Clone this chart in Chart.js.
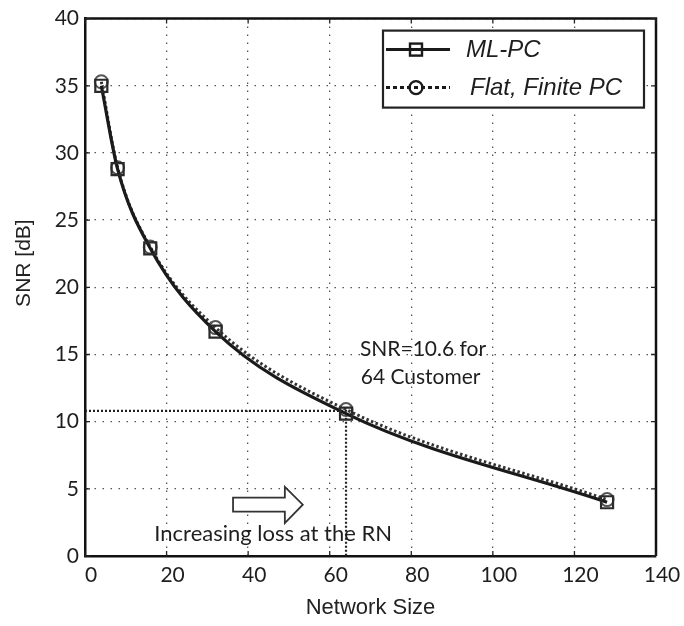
<!DOCTYPE html>
<html><head><meta charset="utf-8">
<script src="https://cdn.jsdelivr.net/npm/chart.js@4/dist/chart.umd.min.js"></script>
<style>html,body{margin:0;padding:0;background:#fff}#wrap{width:684px;height:626px}</style>
</head><body><div id="wrap"><canvas id="c" width="684" height="626"></canvas></div>
<script>
// ---- data ----
const networkSize = [4, 8, 16, 32, 64, 128];
const snrMLPC     = [35.0, 28.8, 22.9, 16.7, 10.6, 4.0];
const snrFlat     = [35.3, 28.9, 23.0, 17.0, 10.9, 4.2];
const guideX      = [0, 64, 64];
const guideY      = [10.8, 10.8, 0];
const seriesNames = ['ML-PC', 'Flat, Finite PC'];
const xTickStep = 20, xMin = 0, xMax = 140;
const yTickStep = 5,  yMin = 0, yMax = 40;
const xTitle = 'Network Size';
const yTitle = 'SNR [dB]';
const noteLines = ['SNR=10.6 for', '64 Customer'];
const arrowNote = 'Increasing loss at the RN';

const toPts = (xs, ys) => xs.map((x, i) => ({x: x, y: ys[i]}));
const INK = '#1a1a1a';
const CAL = "Lato, 'Open Sans', sans-serif";
const ARI = "'Liberation Sans', Arial, sans-serif";

const extras = {
  id: 'extras',
  afterDraw(chart) {
    const {ctx, chartArea: a, scales: {x, y}} = chart;
    ctx.save();
    // frame top/right
    ctx.strokeStyle = '#111'; ctx.lineWidth = 2.5; ctx.setLineDash([]);
    ctx.beginPath();
    ctx.moveTo(a.left, a.top); ctx.lineTo(a.right, a.top); ctx.lineTo(a.right, a.bottom);
    ctx.stroke();
    // inward tick marks
    ctx.lineWidth = 1.3; ctx.strokeStyle = '#222';
    x.ticks.forEach(t => {
      const px = x.getPixelForValue(t.value);
      ctx.beginPath(); ctx.moveTo(px, a.bottom); ctx.lineTo(px, a.bottom - 5);
      ctx.moveTo(px, a.top); ctx.lineTo(px, a.top + 5); ctx.stroke();
    });
    y.ticks.forEach(t => {
      const py = y.getPixelForValue(t.value);
      ctx.beginPath(); ctx.moveTo(a.left, py); ctx.lineTo(a.left + 5, py);
      ctx.moveTo(a.right, py); ctx.lineTo(a.right - 5, py); ctx.stroke();
    });

    // legend box
    const lx = a.left + 298, ly = a.top + 12, lw = 261, lh = 77;
    ctx.fillStyle = '#fff'; ctx.fillRect(lx, ly, lw, lh);
    ctx.lineWidth = 2.2; ctx.strokeStyle = '#222'; ctx.strokeRect(lx, ly, lw, lh);
    const rows = [ly + 19, ly + 57];
    // row 1: solid line + square
    ctx.strokeStyle = INK; ctx.lineWidth = 3;
    ctx.beginPath(); ctx.moveTo(lx + 3, rows[0]); ctx.lineTo(lx + 67, rows[0]); ctx.stroke();
    ctx.lineWidth = 2.4; ctx.strokeRect(lx + 27, rows[0] - 6, 12, 12);
    // row 2: dashed line + circle
    ctx.lineWidth = 3; ctx.setLineDash([4, 3]);
    ctx.beginPath(); ctx.moveTo(lx + 3, rows[1]); ctx.lineTo(lx + 67, rows[1]); ctx.stroke();
    ctx.setLineDash([]); ctx.lineWidth = 2.4;
    ctx.beginPath(); ctx.arc(lx + 33, rows[1], 6.5, 0, Math.PI * 2); ctx.stroke();
    ctx.fillStyle = '#1e1e1e'; ctx.font = 'italic 24px ' + ARI; ctx.textBaseline = 'middle'; ctx.textAlign = 'left';
    ctx.fillText(seriesNames[0], lx + 83, rows[0] + 1);
    ctx.fillText(seriesNames[1], lx + 87, rows[1] + 1);

    // annotation text
    ctx.font = '21px ' + CAL; ctx.fillStyle = '#1e1e1e';
    ctx.fillText(noteLines[0], x.getPixelForValue(67.4), y.getPixelForValue(15.4));
    ctx.fillText(noteLines[1], x.getPixelForValue(67.6), y.getPixelForValue(13.3));
    ctx.textBaseline = 'alphabetic';
    ctx.font = '22px ' + CAL;
    ctx.fillText(arrowNote, x.getPixelForValue(17.0), y.getPixelForValue(1.15));

    // hollow arrow
    const P = (vx, vy) => [x.getPixelForValue(vx), y.getPixelForValue(vy)];
    const pts = [P(36.3, 4.34), P(49.0, 4.34), P(49.0, 5.15), P(53.4, 3.82), P(49.0, 2.45), P(49.0, 3.3), P(36.3, 3.3)];
    ctx.fillStyle = '#fff'; ctx.strokeStyle = '#333'; ctx.lineWidth = 1.8;
    ctx.beginPath(); pts.forEach((p, i) => i ? ctx.lineTo(p[0], p[1]) : ctx.moveTo(p[0], p[1]));
    ctx.closePath(); ctx.fill(); ctx.stroke();

    // y title
    ctx.translate(24, y.getPixelForValue(21.8));
    ctx.rotate(-Math.PI / 2);
    ctx.font = '21px ' + ARI; ctx.fillStyle = '#222'; ctx.textAlign = 'center'; ctx.textBaseline = 'middle';
    ctx.fillText(yTitle, 0, 0);
    ctx.restore();
  }
};

new Chart(document.getElementById('c'), {
  type: 'line',
  data: {
    datasets: [
      { label: seriesNames[0], data: toPts(networkSize, snrMLPC),
        borderColor: INK, borderWidth: 3.2, cubicInterpolationMode: 'monotone',
        pointStyle: 'rect', pointRadius: 8.5, pointBorderWidth: 2.2, pointBorderColor: '#2a2a2a',
        pointBackgroundColor: 'rgba(0,0,0,0)' },
      { label: seriesNames[1], data: toPts(networkSize, snrFlat),
        borderColor: '#333', borderWidth: 3, borderDash: [2.5, 2.5], cubicInterpolationMode: 'monotone',
        pointStyle: 'circle', pointRadius: 6.5, pointBorderWidth: 2, pointBorderColor: '#555',
        pointBackgroundColor: 'rgba(0,0,0,0)' },
      { label: 'guide', data: toPts(guideX, guideY),
        borderColor: '#222', borderWidth: 2.2, borderDash: [2, 2], tension: 0,
        pointRadius: 0 }
    ]
  },
  options: {
    responsive: false, animation: false,
    layout: { padding: { top: 11, right: 28, left: 0, bottom: 0 } },
    plugins: { legend: { display: false }, tooltip: { enabled: false } },
    scales: {
      x: {
        type: 'linear', min: xMin, max: xMax,
        afterFit: s => { s.height = 70; },
        ticks: { stepSize: xTickStep, color: '#1e1e1e', font: { family: CAL, size: 21 }, padding: 7, labelOffset: 6, maxRotation: 0 },
        grid: { color: '#555', lineWidth: 1.3, drawTicks: false },
        border: { color: '#111', width: 2.5, dash: [1.5, 6.5] },
        title: { display: true, text: xTitle, color: '#222', font: { family: ARI, size: 22 }, padding: { top: 2, bottom: 5 } }
      },
      y: {
        min: yMin, max: yMax,
        afterFit: s => { s.width = 85; },
        ticks: { stepSize: yTickStep, color: '#1e1e1e', font: { family: CAL, size: 21 }, padding: 6 },
        grid: { color: '#555', lineWidth: 1.3, drawTicks: false },
        border: { color: '#111', width: 2.5, dash: [1.5, 6.5] }
      }
    }
  },
  plugins: [extras]
});
</script>
</body></html>
